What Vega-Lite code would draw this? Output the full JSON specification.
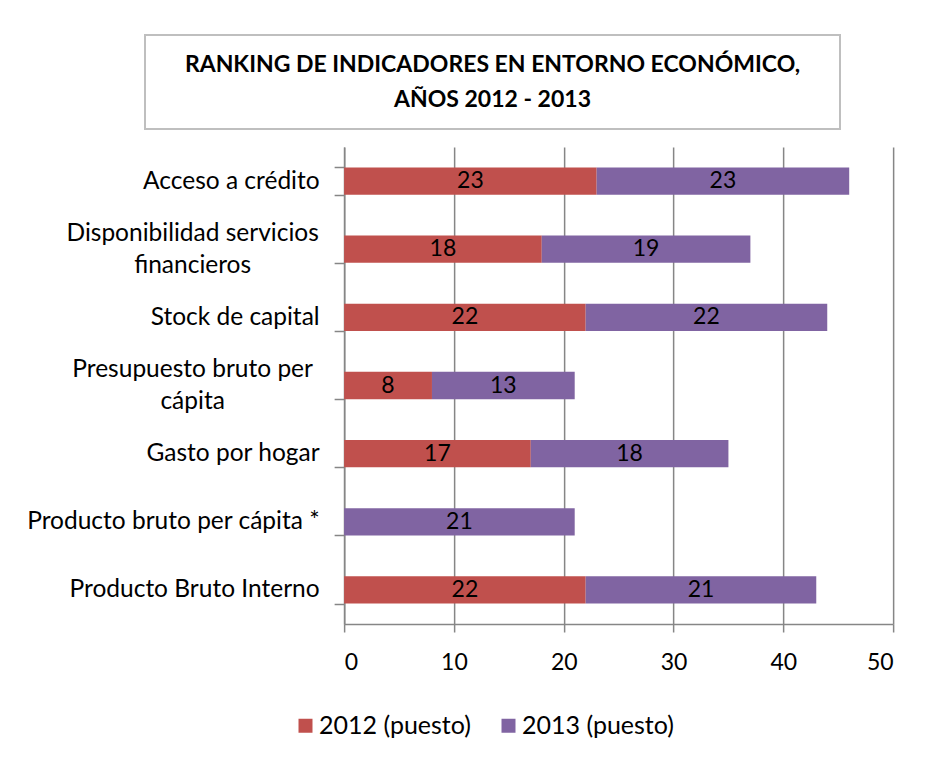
{
  "$schema": "https://vega.github.io/schema/vega-lite/v6.json",
  "background": "white",
  "padding": {"left": 26, "top": 34, "right": 0, "bottom": 0},
  "config": {"font": "Lato", "view": {"stroke": null}},
  "spacing": 4,
  "center": true,
  "vconcat": [
    {
      "spacing": 0,
      "hconcat": [
        {
          "width": 695, "height": 94,
          "data": {"values": [{"t": ["RANKING DE INDICADORES EN ENTORNO ECONÓMICO,", "AÑOS 2012 - 2013"]}]},
          "mark": {"type": "text", "fontSize": 23, "fontWeight": "bold", "lineHeight": 35, "font": "Lato", "color": "black", "dy": -17},
          "encoding": {"text": {"field": "t"}},
          "view": {"stroke": "#BFBFBF", "strokeWidth": 2}
        },
        {
          "width": 252, "height": 94,
          "data": {"values": [{"t": ""}]},
          "mark": {"type": "text"},
          "encoding": {"text": {"field": "t"}}
        }
      ]
    },
    {
      "width": 549,
      "height": 477,
      "data": {"values": [
        {"indicador": "Acceso a crédito", "serie": "2012 (puesto)", "puesto": 23},
        {"indicador": "Acceso a crédito", "serie": "2013 (puesto)", "puesto": 23},
        {"indicador": "Disponibilidad servicios|financieros", "serie": "2012 (puesto)", "puesto": 18},
        {"indicador": "Disponibilidad servicios|financieros", "serie": "2013 (puesto)", "puesto": 19},
        {"indicador": "Stock de capital", "serie": "2012 (puesto)", "puesto": 22},
        {"indicador": "Stock de capital", "serie": "2013 (puesto)", "puesto": 22},
        {"indicador": "Presupuesto bruto per|cápita", "serie": "2012 (puesto)", "puesto": 8},
        {"indicador": "Presupuesto bruto per|cápita", "serie": "2013 (puesto)", "puesto": 13},
        {"indicador": "Gasto por hogar", "serie": "2012 (puesto)", "puesto": 17},
        {"indicador": "Gasto por hogar", "serie": "2013 (puesto)", "puesto": 18},
        {"indicador": "Producto bruto per cápita *", "serie": "2013 (puesto)", "puesto": 21},
        {"indicador": "Producto Bruto Interno", "serie": "2012 (puesto)", "puesto": 22},
        {"indicador": "Producto Bruto Interno", "serie": "2013 (puesto)", "puesto": 21}
      ]},
      "encoding": {
        "y": {
          "field": "indicador", "type": "nominal", "sort": null,
          "scale": {"paddingInner": 0.6, "paddingOuter": 0.3},
          "axis": {
            "title": null,
            "labelExpr": "split(datum.label, '|')",
            "labelFontSize": 24.5,
            "labelColor": "black",
            "labelLineHeight": 32,
            "labelLimit": 500,
            "labelAlign": {"condition": {"test": "indexof(datum.label, '|') >= 0", "value": "center"}, "value": "right"},
            "labelPadding": {"condition": {"test": "indexof(datum.label, '|') >= 0", "value": 142}, "value": 15},
            "labelOffset": {"condition": {"test": "indexof(datum.label, '|') >= 0", "value": -16}, "value": 0},
            "labelBaseline": "middle",
            "tickBand": "extent",
            "tickSize": 10,
            "tickColor": "#868686",
            "tickWidth": 1.5,
            "domainColor": "#868686",
            "domainWidth": 1.5,
            "grid": false
          }
        }
      },
      "layer": [
        {
          "mark": {"type": "bar"},
          "encoding": {
            "x": {
              "field": "puesto", "type": "quantitative", "stack": "zero",
              "scale": {"domain": [0, 50], "nice": false},
              "axis": {
                "title": null,
                "values": [0, 10, 20, 30, 40, 50],
                "grid": true,
                "gridColor": "#868686",
                "gridWidth": 1.5,
                "tickSize": 8,
                "tickColor": "#868686",
                "tickWidth": 1.5,
                "domainColor": "#868686",
                "domainWidth": 1.5,
                "labelFontSize": 23,
                "labelColor": "black",
                "labelPadding": 19
              }
            },
            "order": {"field": "serie", "sort": "ascending"},
            "color": {
              "field": "serie", "type": "nominal",
              "scale": {"domain": ["2012 (puesto)", "2013 (puesto)"], "range": ["#C0504D", "#8064A2"]},
              "legend": {
                "title": null,
                "orient": "none",
                "direction": "horizontal",
                "legendX": 148,
                "legendY": 678,
                "symbolType": "square",
                "symbolSize": 196,
                "symbolStrokeWidth": 0,
                "labelFontSize": 25,
                "labelColor": "black",
                "columnPadding": 25,
                "labelOffset": 1
              }
            }
          }
        },
        {
          "mark": {"type": "text", "fontSize": 23, "color": "black", "baseline": "middle"},
          "encoding": {
            "x": {"field": "puesto", "type": "quantitative", "stack": "zero", "bandPosition": 0.5},
            "order": {"field": "serie", "sort": "ascending"},
            "detail": {"field": "serie"},
            "text": {"field": "puesto", "type": "quantitative"}
          }
        }
      ]
    }
  ]
}
